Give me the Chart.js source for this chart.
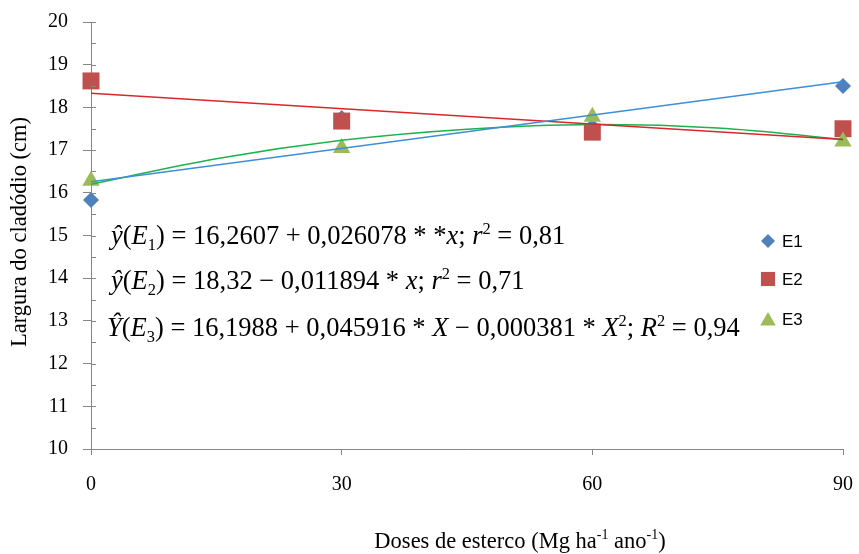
<!DOCTYPE html>
<html>
<head>
<meta charset="utf-8">
<script src="https://cdn.jsdelivr.net/npm/chart.js@4.4.1/dist/chart.umd.min.js"></script>
<style>
  html, body { margin: 0; padding: 0; background: #fff; }
  #wrap { width: 859px; height: 554px; }
</style>
</head>
<body>
<div id="wrap"><canvas id="chart" width="859" height="554"></canvas></div>
<script>
// values
const doses = [0, 30, 60, 90];
const e1 = [15.83, 17.75, 17.55, 18.5];
const e2 = [18.62, 17.68, 17.42, 17.5];
const e3 = [16.28, 17.05, 17.78, 17.2];

// fitted lines as drawn in the picture
const lineX = [0, 90];
const e1Fit = [16.26, 18.6];
const e2Fit = [18.33, 17.25];
const curveX = [0, 15, 30, 45, 60, 75, 90];
const e3Fit = [16.2, 16.8, 17.23, 17.49, 17.6, 17.52, 17.25];

const seriesNames = ['E1', 'E2', 'E3'];
const yTicks = [10, 11, 12, 13, 14, 15, 16, 17, 18, 19, 20];
const xTicks = [0, 30, 60, 90];

const SERIF = '"Liberation Serif", "Times New Roman", serif';
const AXIS = '#868686';

const pts = (xs, ys) => xs.map((x, i) => ({ x: x, y: ys[i] }));

// draws a line of text made of pieces (italic / sub / sup)
function drawRich(ctx, x, y, segs, size) {
  let cx = x;
  segs.forEach(s => {
    let fs = size, dy = 0;
    if (s.sub) { fs = size * 0.62; dy = size * 0.22; }
    if (s.sup) { fs = size * 0.62; dy = -size * 0.38; }
    ctx.font = (s.i ? 'italic ' : '') + fs + 'px ' + SERIF;
    ctx.fillText(s.t, cx, y + dy);
    cx += ctx.measureText(s.t).width;
  });
  return cx - x;
}
function richWidth(ctx, segs, size) {
  let w = 0;
  segs.forEach(s => {
    let fs = (s.sub || s.sup) ? size * 0.62 : size;
    ctx.font = (s.i ? 'italic ' : '') + fs + 'px ' + SERIF;
    w += ctx.measureText(s.t).width;
  });
  return w;
}

const eq1 = [{t:'\u0177', i:1}, {t:'('}, {t:'E', i:1}, {t:'1', sub:1}, {t:')'},
  {t:' = 16,2607 + 0,026078 * *'}, {t:'x', i:1}, {t:'; '}, {t:'r', i:1}, {t:'2', sup:1}, {t:' = 0,81'}];
const eq2 = [{t:'\u0177', i:1}, {t:'('}, {t:'E', i:1}, {t:'2', sub:1}, {t:')'},
  {t:' = 18,32 \u2212 0,011894 * '}, {t:'x', i:1}, {t:'; '}, {t:'r', i:1}, {t:'2', sup:1}, {t:' = 0,71'}];
const eq3 = [{t:'\u0176', i:1}, {t:'('}, {t:'E', i:1}, {t:'3', sub:1}, {t:')'},
  {t:' = 16,1988 + 0,045916 * '}, {t:'X', i:1}, {t:' \u2212 0,000381 * '}, {t:'X', i:1}, {t:'2', sup:1},
  {t:'; '}, {t:'R', i:1}, {t:'2', sup:1}, {t:' = 0,94'}];
const xTitle = [{t:'Doses de esterco (Mg ha'}, {t:'-1', sup:1}, {t:' ano'}, {t:'-1', sup:1}, {t:')'}];

const extras = {
  id: 'extras',
  afterDraw(chart) {
    const ctx = chart.ctx;
    const ys = chart.scales.y;
    const ax = chart.chartArea.left;
    ctx.save();
    // minor ticks + right side of major ticks
    ctx.strokeStyle = AXIS;
    ctx.lineWidth = 1;
    for (let v = 10; v <= 20; v += 0.5) {
      const py = Math.round(ys.getPixelForValue(v)) + 0.5;
      ctx.beginPath();
      ctx.moveTo(ax, py);
      ctx.lineTo(ax + 5, py);
      ctx.stroke();
    }
    ctx.fillStyle = '#000';
    ctx.textBaseline = 'alphabetic';
    ctx.textAlign = 'left';
    // equations
    drawRich(ctx, 111, 244, eq1, 26.5);
    drawRich(ctx, 111, 289, eq2, 26.5);
    drawRich(ctx, 107, 336, eq3, 26.5);
    // x title
    const tw = richWidth(ctx, xTitle, 22.5);
    drawRich(ctx, 520 - tw / 2, 548, xTitle, 22.5);
    // y title
    ctx.save();
    ctx.translate(26, 232);
    ctx.rotate(-Math.PI / 2);
    ctx.textAlign = 'center';
    ctx.font = '22.5px ' + SERIF;
    ctx.fillText('Largura do cladódio (cm)', 0, 0);
    ctx.restore();
    // legend
    const ly = [241, 279, 319];
    const styles = ['rectRot', 'rect', 'triangle'];
    const radii = [7, 10, 9];
    ctx.font = '17px "Liberation Sans", Arial, sans-serif';
    ctx.textBaseline = 'middle';
    seriesNames.forEach((n, i) => {
      const ds = chart.data.datasets[i];
      ctx.fillStyle = ds.backgroundColor;
      ctx.strokeStyle = ds.backgroundColor;
      Chart.helpers.drawPoint(ctx, { pointStyle: styles[i], radius: radii[i], borderWidth: 0 }, 768, ly[i] + (i === 2 ? 2 : 0));
      ctx.fillStyle = '#000';
      ctx.fillText(n, 782, ly[i] + 1);
    });
    ctx.restore();
  }
};

new Chart(document.getElementById('chart'), {
  type: 'scatter',
  data: {
    datasets: [
      { label: 'E1', data: pts(doses, e1), pointStyle: 'rectRot', pointRadius: 8, backgroundColor: '#4F81BD', borderColor: '#4F81BD', borderWidth: 0, order: 3, clip: false },
      { label: 'E2', data: pts(doses, e2), pointStyle: 'rect', pointRadius: 12, backgroundColor: '#C0504D', borderColor: '#C0504D', borderWidth: 0, order: 2, clip: false },
      { label: 'E3', data: pts(doses, e3), pointStyle: 'triangle', pointRadius: 10, backgroundColor: '#9BBB59', borderColor: '#9BBB59', borderWidth: 0, order: 1, clip: false },
      { label: 'E1 fit', data: pts(lineX, e1Fit), showLine: true, pointRadius: 0, borderColor: '#3E8ED8', borderWidth: 1.5, order: 0, clip: false },
      { label: 'E2 fit', data: pts(lineX, e2Fit), showLine: true, pointRadius: 0, borderColor: '#D9272C', borderWidth: 1.5, order: 0, clip: false },
      { label: 'E3 fit', data: pts(curveX, e3Fit), showLine: true, pointRadius: 0, borderColor: '#1DB24E', borderWidth: 1.5, tension: 0.4, order: 0, clip: false }
    ]
  },
  options: {
    responsive: false,
    animation: false,
    layout: { padding: { left: 0, top: 22, right: 16, bottom: 0 } },
    plugins: { legend: { display: false }, tooltip: { enabled: false } },
    scales: {
      x: {
        type: 'linear', min: 0, max: 90,
        afterBuildTicks: s => { s.ticks = xTicks.map(v => ({ value: v })); },
        afterFit: s => { s.height = 105; s.paddingLeft = 0; s.paddingRight = 0; },
        grid: { drawOnChartArea: false, tickLength: 6, color: AXIS },
        border: { color: AXIS },
        ticks: { color: '#000', padding: 18, font: { family: SERIF, size: 20 } }
      },
      y: {
        min: 10, max: 20,
        afterBuildTicks: s => { s.ticks = yTicks.map(v => ({ value: v })); },
        afterFit: s => { s.width = 91; s.paddingTop = 0; s.paddingBottom = 0; },
        grid: { drawOnChartArea: false, tickLength: 8, color: AXIS },
        border: { color: AXIS },
        ticks: { color: '#000', padding: 15, font: { family: SERIF, size: 20 } }
      }
    }
  },
  plugins: [extras]
});
</script>
</body>
</html>
